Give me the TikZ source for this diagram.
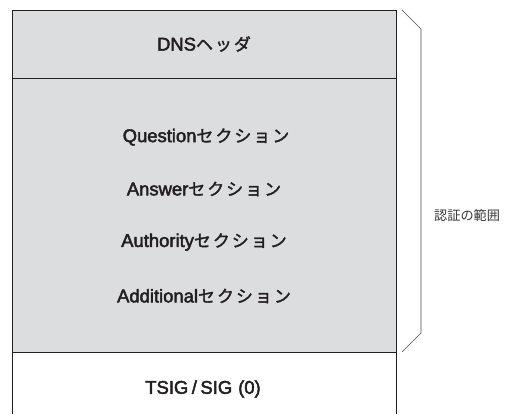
\documentclass[tikz,border=0pt]{standalone}
\usepackage{fontspec}
\setmainfont{Liberation Sans}
\newfontfamily\latmed[FakeBold=2.5]{Liberation Sans}
\newfontfamily\jpmed[FakeBold=1.8,LetterSpace=12]{Noto Sans CJK JP}
\newfontfamily\jplight{Noto Sans CJK JP}
\newcommand{\kana}[1]{{\jpmed\fontsize{17}{18}\selectfont #1}}
\definecolor{boxgray}{HTML}{DCDDDF}
\definecolor{inkline}{HTML}{231F20}
\tikzset{
  sec/.style={font=\latmed\fontsize{18.5}{20}\selectfont, text=inkline, anchor=center, inner sep=0pt},
  brace/.style={draw=inkline!80, line width=0.6pt},
  outline/.style={draw=inkline, line width=0.8pt}
}
\begin{document}
\begin{tikzpicture}[x=1bp,y=-1bp]
\useasboundingbox (0,0) rectangle (516,414);
\fill[boxgray] (12,10) rectangle (396,352);
\draw[outline] (12,414) -- (12,10) -- (396,10) -- (396,414);
\draw[outline] (12,78) -- (396,78);
\draw[outline] (12,352) -- (396,352);
\node[sec] (hdr) at (204,44) {DNS\kana{ヘッダ}};
\node[sec] (q) at (206,137) {Question\kana{セクション}};
\node[sec] (an) at (204,189) {Answer\kana{セクション}};
\node[sec] (au) at (204,242) {Authority\kana{セクション}};
\node[sec] (ad) at (204,296) {Additional\kana{セクション}};
\node[sec] (ts) at (203,389) {TSIG\hspace{3.5bp}/\hspace{3.5bp}SIG\hspace{6bp}(0)};
\coordinate (b1) at (402,10);
\coordinate (b2) at (421,29);
\coordinate (b3) at (421,333);
\coordinate (b4) at (402,352);
\draw[brace] (b1) -- (b2) -- (b3) -- (b4);
\node[font=\jplight\fontsize{13.2}{14}\selectfont, text=inkline!90, anchor=west, inner sep=0pt] (lbl) at (434,215) {認証の範囲};
\end{tikzpicture}
\end{document}
